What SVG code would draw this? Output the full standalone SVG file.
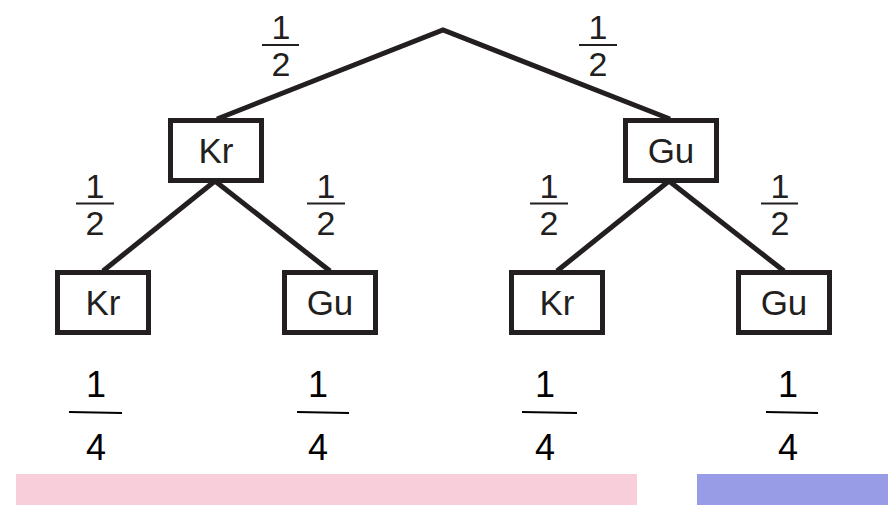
<svg xmlns="http://www.w3.org/2000/svg" width="888" height="509" viewBox="0 0 888 509">
  <style>
    .edge { stroke: #231f20; stroke-width: 5; fill: none; stroke-linecap: butt; stroke-linejoin: miter; }
    .box { fill: #ffffff; stroke: #231f20; stroke-width: 5; }
    .lbl { font-family: "Liberation Sans", Arial, sans-serif; font-size: 35px; fill: #231f20; text-anchor: middle; }
    .num { font-family: "Liberation Sans", Arial, sans-serif; font-size: 34px; fill: #231f20; text-anchor: middle; }
    .bar { stroke: #231f20; stroke-width: 2; }
    .res { font-family: "Liberation Sans Narrow", "Liberation Sans", Arial, sans-serif; font-size: 36px; fill: #000000; text-anchor: middle; }
    .resbar { stroke: #000000; stroke-width: 2; }
  </style>

  <!-- connectors -->
  <g id="edges">
    <polyline class="edge" points="217,119 443,30 670,119"/>
    <line class="edge" x1="215" y1="181" x2="103" y2="271"/>
    <line class="edge" x1="215" y1="181" x2="330" y2="271"/>
    <line class="edge" x1="669" y1="181" x2="557" y2="271"/>
    <line class="edge" x1="669" y1="181" x2="784" y2="271"/>
  </g>

  <!-- branch probabilities -->
  <g id="edge-labels">
    <g id="p-root-kr">
      <text class="num" x="281" y="39">1</text>
      <line class="bar" x1="262" y1="45" x2="299" y2="45"/>
      <text class="num" x="281" y="76">2</text>
    </g>
    <g id="p-root-gu">
      <text class="num" x="598" y="39">1</text>
      <line class="bar" x1="579" y1="45" x2="617" y2="45"/>
      <text class="num" x="598" y="76">2</text>
    </g>
    <g id="p-kr-kr">
      <text class="num" x="95" y="198">1</text>
      <line class="bar" x1="76" y1="203.5" x2="114" y2="203.5"/>
      <text class="num" x="95" y="235">2</text>
    </g>
    <g id="p-kr-gu">
      <text class="num" x="326" y="198">1</text>
      <line class="bar" x1="307" y1="203.5" x2="345" y2="203.5"/>
      <text class="num" x="326" y="235">2</text>
    </g>
    <g id="p-gu-kr">
      <text class="num" x="549" y="198">1</text>
      <line class="bar" x1="530" y1="203.5" x2="568" y2="203.5"/>
      <text class="num" x="549" y="235">2</text>
    </g>
    <g id="p-gu-gu">
      <text class="num" x="780" y="198">1</text>
      <line class="bar" x1="761" y1="203.5" x2="798" y2="203.5"/>
      <text class="num" x="780" y="235">2</text>
    </g>
  </g>

  <!-- first toss -->
  <g id="node-kr">
    <rect class="box" x="170.5" y="120.5" width="91" height="60"/>
    <text class="lbl" x="216" y="163">Kr</text>
  </g>
  <g id="node-gu">
    <rect class="box" x="625.5" y="120.5" width="91" height="60"/>
    <text class="lbl" x="671" y="163">Gu</text>
  </g>

  <!-- second toss -->
  <g id="node-kr-kr">
    <rect class="box" x="57.5" y="272.5" width="91" height="60"/>
    <text class="lbl" x="103" y="315">Kr</text>
  </g>
  <g id="node-kr-gu">
    <rect class="box" x="284.5" y="272.5" width="91" height="60"/>
    <text class="lbl" x="330" y="315">Gu</text>
  </g>
  <g id="node-gu-kr">
    <rect class="box" x="511.5" y="272.5" width="91" height="60"/>
    <text class="lbl" x="557" y="315">Kr</text>
  </g>
  <g id="node-gu-gu">
    <rect class="box" x="738.5" y="272.5" width="91" height="60"/>
    <text class="lbl" x="784" y="315">Gu</text>
  </g>

  <!-- path probabilities -->
  <g id="results">
    <g>
      <text class="res" x="96" y="397">1</text>
      <line class="resbar" x1="69" y1="412" x2="122" y2="413"/>
      <text class="res" x="96" y="460">4</text>
    </g>
    <g>
      <text class="res" x="318" y="397">1</text>
      <line class="resbar" x1="297" y1="412" x2="349" y2="413"/>
      <text class="res" x="318" y="460">4</text>
    </g>
    <g>
      <text class="res" x="545" y="397">1</text>
      <line class="resbar" x1="522" y1="412" x2="577" y2="413"/>
      <text class="res" x="545" y="460">4</text>
    </g>
    <g>
      <text class="res" x="788" y="397">1</text>
      <line class="resbar" x1="766" y1="412" x2="818" y2="413"/>
      <text class="res" x="788" y="460">4</text>
    </g>
  </g>

  <!-- outcome bars -->
  <rect id="band-pink" x="16" y="474" width="621" height="31" fill="#f8cedb"/>
  <rect id="band-blue" x="697" y="474" width="191" height="31" fill="#989ce6"/>
</svg>
